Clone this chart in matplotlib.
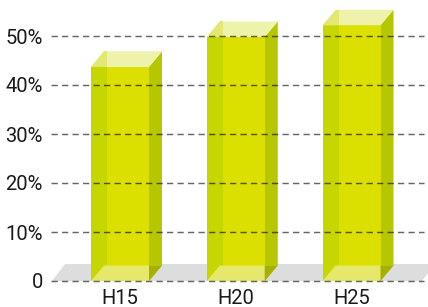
import matplotlib
matplotlib.use("Agg")
import matplotlib.pyplot as plt
from matplotlib.patches import Polygon

categories = ["H15", "H20", "H25"]
values = [43.7, 49.8, 52.2]
yticks = [0, 10, 20, 30, 40, 50]
ytick_labels = ["0", "10%", "20%", "30%", "40%", "50%"]

W, H = 428, 307
fig = plt.figure(figsize=(W / 100, H / 100), dpi=100)
ax = fig.add_axes([51 / W, 26 / H, (W - 51) / W, 281 / H])
px_per_cat = 115.75
px_per_pct = 4.9
xl = -(120 - 51) / px_per_cat
xr = (428 - 120) / px_per_cat
ax.set_xlim(xl, xr)
ax.set_ylim(0, 281 / px_per_pct)

def pxx(p):
    return p / px_per_cat

def pxy(p):
    return p / px_per_pct

half = pxx(29)
ddx, ddy = pxx(13), pxy(15.5)
stripe = pxx(16)

c_front = "#dbe000"
c_stripe = "#c6d600"
c_side = "#b6c700"
c_top = "#eff2ab"
c_top_left = "#e3e872"
c_bottom = "#e5e86a"
c_dark = "#a5b000"
c_floor = "#dcdedd"

fdx, fdy = pxx(13), pxy(17)
fx0, fx1 = xl + pxx(1), pxx(422 - 120)
ax.add_patch(Polygon([(fx0, 0), (fx1, 0), (fx1 + fdx, fdy), (fx0 + fdx, fdy)],
                     closed=True, facecolor=c_floor, edgecolor="none", zorder=1, clip_on=False))

for i, v in enumerate(values):
    x0, x1 = i - half, i + half
    ax.add_patch(Polygon([(x1, 0), (x1 + ddx, ddy), (x1 + ddx, v + ddy), (x1, v)],
                         facecolor=c_side, edgecolor="none", zorder=2))
    ax.add_patch(Polygon([(x0, 0), (x1, 0), (x1, v), (x0, v)],
                         facecolor=c_front, edgecolor="none", zorder=2))
    ax.add_patch(Polygon([(x0, 0), (x0 + stripe, 0), (x0 + stripe, v), (x0, v)],
                         facecolor=c_stripe, edgecolor="none", zorder=2))
    ax.add_patch(Polygon([(x0, 0), (x1, 0), (x1 + ddx, ddy), (x0 + ddx, ddy)],
                         facecolor=c_bottom, edgecolor="none", zorder=2.5))
    ax.add_patch(Polygon([(x1, 0), (x1 + ddx, ddy), (x1, ddy)],
                         facecolor=c_dark, edgecolor="none", zorder=2.6))
    ax.add_patch(Polygon([(x0, v), (x1, v), (x1 + ddx, v + ddy), (x0 + ddx, v + ddy)],
                         facecolor=c_top, edgecolor="none", zorder=2.5))
    ax.add_patch(Polygon([(x0, v), (x0 + stripe, v), (x0 + stripe, v + ddy), (x0 + ddx, v + ddy)],
                         facecolor=c_top_left, edgecolor="none", zorder=2.6))

gx1 = pxx(424 - 120)
for t in yticks:
    ax.plot([xl, gx1], [t, t], color="black", alpha=0.6, lw=1.05,
            dashes=(4.3, 2.9), zorder=4, solid_capstyle="butt", clip_on=False)

fam = ["Roboto", "DejaVu Sans"]
fs = 14.5
ax.set_yticks(yticks)
ax.set_yticklabels(ytick_labels, family=fam, fontsize=fs, color="#1a1a1a")
ax.set_xticks(range(len(categories)))
ax.set_xticklabels(categories, family=fam, fontsize=fs, color="#1a1a1a")
ax.tick_params(axis="y", length=0, pad=5.8)
ax.tick_params(axis="x", length=0, pad=5.5)
for s in ax.spines.values():
    s.set_visible(False)
ax.patch.set_alpha(0)

fig.savefig("out.png", dpi=100)
